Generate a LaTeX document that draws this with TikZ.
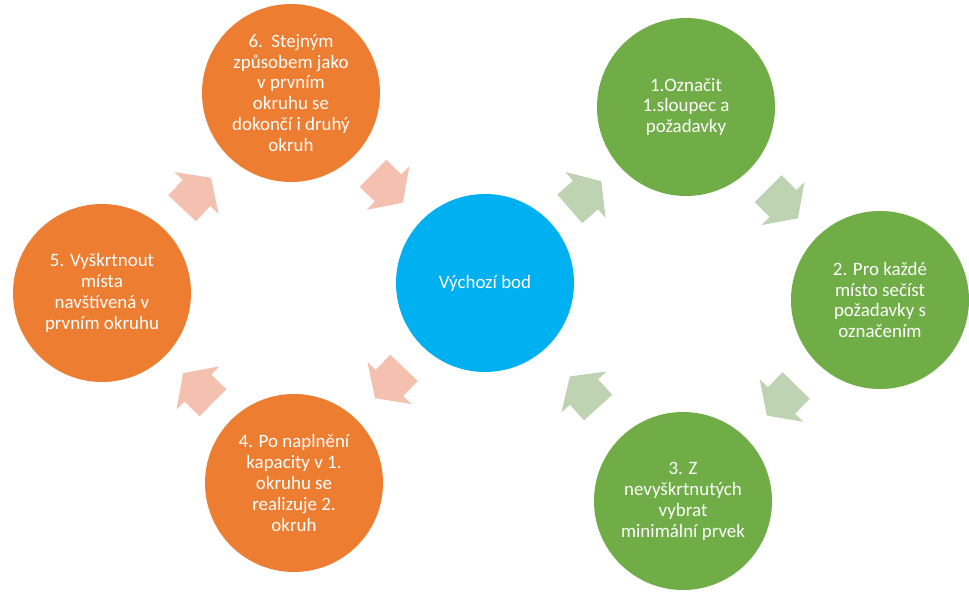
\documentclass[tikz,border=0pt]{standalone}
\usepackage{fontspec}
\setmainfont{Carlito}
\usetikzlibrary{calc}

\definecolor{orangeC}{HTML}{ED7D31}
\definecolor{orangeL}{HTML}{F4C0AF}
\definecolor{greenC}{HTML}{70AD47}
\definecolor{greenL}{HTML}{BDD3B2}
\definecolor{blueC}{HTML}{00B0F0}

\tikzset{
  stepcircle/.style={shape=circle, minimum size=178bp, inner sep=0pt,
    text=white, align=center, font=\fontsize{19}{21}\selectfont}
}

% block arrow half way between two nodes, pointing from #1 to #2
\newcommand{\cyclearrow}[3]{%
  \pgfmathanglebetweenpoints{\pgfpointanchor{#1}{center}}{\pgfpointanchor{#2}{center}}%
  \edef\arrowangle{\pgfmathresult}%
  \fill[#3, shift={($(#1)!0.5!(#2)$)}, rotate=\arrowangle]
    (-21,-19) -- (0,-19) -- (0,-30.5) -- (21,0) -- (0,30.5) -- (0,19) -- (-21,19) -- cycle;
}

\begin{document}
\begin{tikzpicture}[x=1bp, y=-1bp]
    \useasboundingbox (0,0) rectangle (969,595);
    \node[stepcircle, fill=blueC] at (485,283) (C) {Výchozí bod};
    \node[stepcircle, fill=greenC] at (686,107) (G1) {1.Označit\\1.sloupec a\\požadavky};
    \node[stepcircle, fill=greenC] at (880,300) (G2) {2. Pro každé\\místo sečíst\\požadavky s\\označením};
    \node[stepcircle, fill=greenC] at (683,501) (G3) {3. Z\\nevyškrtnutých\\vybrat\\minimální prvek};
    \node[stepcircle, fill=orangeC] at (294,483) (O4) {4. Po naplnění\\kapacity v 1.\\okruhu se\\realizuje 2.\\okruh};
    \node[stepcircle, fill=orangeC] at (102,293) (O5) {5. Vyškrtnout\\místa\\navštívená v\\prvním okruhu};
    \node[stepcircle, fill=orangeC] at (291,93) (O6) {6.\ \ Stejným\\způsobem jako\\v prvním\\okruhu se\\dokončí i druhý\\okruh};
    \cyclearrow{C}{G1}{greenL}
    \cyclearrow{G1}{G2}{greenL}
    \cyclearrow{G2}{G3}{greenL}
    \cyclearrow{G3}{C}{greenL}
    \cyclearrow{C}{O4}{orangeL}
    \cyclearrow{O4}{O5}{orangeL}
    \cyclearrow{O5}{O6}{orangeL}
    \cyclearrow{O6}{C}{orangeL}
\end{tikzpicture}
\end{document}
